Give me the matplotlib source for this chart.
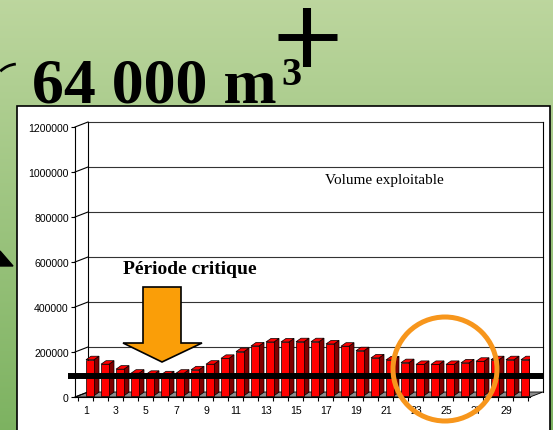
import numpy as np
import matplotlib
matplotlib.use("Agg")
import matplotlib.pyplot as plt
from matplotlib.patches import Polygon, Rectangle, Circle, Arc

# data
jours = np.arange(1, 31)
volumes = [160000, 140000, 118000, 100000, 95000, 93000, 100000, 115000, 140000, 166000,
           196000, 221000, 239000, 239000, 240000, 240000, 230000, 220000, 200000, 168000,
           159000, 147000, 139000, 139000, 139000, 146000, 153000, 160000, 160000, 160000]
yticks = [0, 200000, 400000, 600000, 800000, 1000000, 1200000]
xlabels = list(range(1, 30, 2))
seuil = 95000  # trait noir horizontal
titre = "64 000 m"
label_volume = "Volume exploitable"
label_critique = "Période critique"

W, H = 553, 431
fig = plt.figure(figsize=(W / 100, H / 100), dpi=100)

# background + slide decorations (pixel coords)
bg = fig.add_axes([0, 0, 1, 1], zorder=0)
g = np.linspace(0, 1, 256)[:, None, None]
top_c = np.array([0.74, 0.84, 0.62])
bot_c = np.array([0.49, 0.70, 0.38])
img = top_c * (1 - g) + bot_c * g
bg.imshow(img, aspect="auto", extent=[0, W, H, 0])
bg.set_xlim(0, W)
bg.set_ylim(H, 0)
bg.axis("off")

bg.add_patch(Rectangle((17, 107), 533, 340, facecolor="white", edgecolor="black", lw=1.2))
bg.text(32, 103, titre, fontfamily="Liberation Serif", fontweight="bold", fontsize=46,
        va="baseline", ha="left")
bg.text(281, 85, "3", fontfamily="Liberation Serif", fontweight="bold", fontsize=29,
        va="baseline", ha="left")
bg.plot([307, 307], [9, 68], color="black", lw=5.8, solid_capstyle="butt")
bg.plot([278, 337], [38, 38], color="black", lw=5.0, solid_capstyle="butt")
bg.add_patch(Arc((18, 90), 50, 50, theta1=225, theta2=265, color="black", lw=2))
bg.add_patch(Polygon([(0, 252), (13, 267), (0, 267)], closed=True, color="black"))

# chart axes (front plane)
ax = fig.add_axes([75 / W, (H - 398) / H, 455 / W, 270 / H], zorder=1)
ax.patch.set_alpha(0)
xmin, xmax = 0.2667, 30.6
ax.set_xlim(xmin, xmax)
ax.set_ylim(0, 1200000)
px_x = 1 / 15.0
px_y = 200000 / 45.0
dx, dy = 13 * px_x, 5 * px_y  # wall depth

# floor
ax.add_patch(Polygon([(xmin, 0), (xmax, 0), (xmax + dx, dy), (xmin + dx, dy)], closed=True,
                     facecolor="#8c8c8c", edgecolor="black", lw=0.6, clip_on=False, zorder=1))
# back wall + gridlines
for t in yticks:
    ax.plot([xmin, xmin + dx], [t, t + dy], color="black", lw=0.8, clip_on=False, zorder=1)
    if t > 0:
        ax.plot([xmin + dx, xmax + dx], [t + dy, t + dy], color="#333333", lw=0.8,
                clip_on=False, zorder=1)
ax.plot([xmin + dx, xmin + dx], [dy, 1200000 + dy], color="black", lw=0.8, clip_on=False, zorder=1)
ax.plot([xmax + dx, xmax + dx], [dy, 1200000 + dy], color="black", lw=0.8, clip_on=False, zorder=1)

# 3d bars
bw = 8 * px_x
bx = jours + 0 * px_x
by = 1.3 * px_y
bdx, bdy = 5 * px_x, 3.5 * px_y
for x0, v in zip(bx, volumes):
    side = [(x0 + bw, by), (x0 + bw + bdx, by + bdy), (x0 + bw + bdx, by + v + bdy), (x0 + bw, by + v)]
    topf = [(x0, by + v), (x0 + bw, by + v), (x0 + bw + bdx, by + v + bdy), (x0 + bdx, by + v + bdy)]
    ax.add_patch(Polygon(side, closed=True, facecolor="#800000", edgecolor="black", lw=0.5, zorder=3))
    ax.add_patch(Polygon(topf, closed=True, facecolor="#ff0000", edgecolor="black", lw=0.5, zorder=3))
ax.bar(bx, volumes, width=bw, bottom=by, align="edge", color="#ff0000",
       edgecolor="black", lw=0.5, zorder=3)

# threshold line
ax.plot([xmin - 7 * px_x, xmax + 13 * px_x], [seuil, seuil], color="black", lw=4.3,
        solid_capstyle="butt", clip_on=False, zorder=5)

# axes styling
for s in ["top", "right"]:
    ax.spines[s].set_visible(False)
for s in ["left", "bottom"]:
    ax.spines[s].set_linewidth(0.8)
ax.set_yticks(yticks)
ax.set_yticklabels([str(t) for t in yticks], fontfamily="Liberation Sans", fontsize=7.6)
ax.tick_params(axis="y", direction="out", length=3, width=0.8, pad=1.5)
ax.set_xticks(xlabels)
ax.set_xticklabels([str(t) for t in xlabels], fontfamily="Liberation Sans", fontsize=7.6)
ax.set_xticks(np.arange(0.5, 31, 1.0), minor=True)
ax.tick_params(axis="x", which="major", length=0, pad=5.5)
ax.tick_params(axis="x", which="minor", direction="out", length=3, width=0.8)

# overlay: annotations (pixel coords)
ov = fig.add_axes([0, 0, 1, 1], zorder=2)
ov.patch.set_alpha(0)
ov.set_xlim(0, W)
ov.set_ylim(H, 0)
ov.axis("off")
ov.text(384, 181, label_volume, fontfamily="Liberation Serif", fontsize=11,
        ha="center", va="center")
ov.text(123, 274, label_critique, fontfamily="Liberation Serif", fontweight="bold",
        fontsize=14, ha="left", va="baseline")
fleche = [(143, 288), (181, 288), (181, 344), (202, 344), (162, 363), (123, 344), (143, 344)]
ov.add_patch(Polygon(fleche, closed=True, facecolor="#fa9e08", edgecolor="black", lw=1.2))
ov.add_patch(Circle((445, 370), 52, facecolor="none", edgecolor="#f7961c", lw=3.6))

fig.savefig("out.png", dpi=100)
